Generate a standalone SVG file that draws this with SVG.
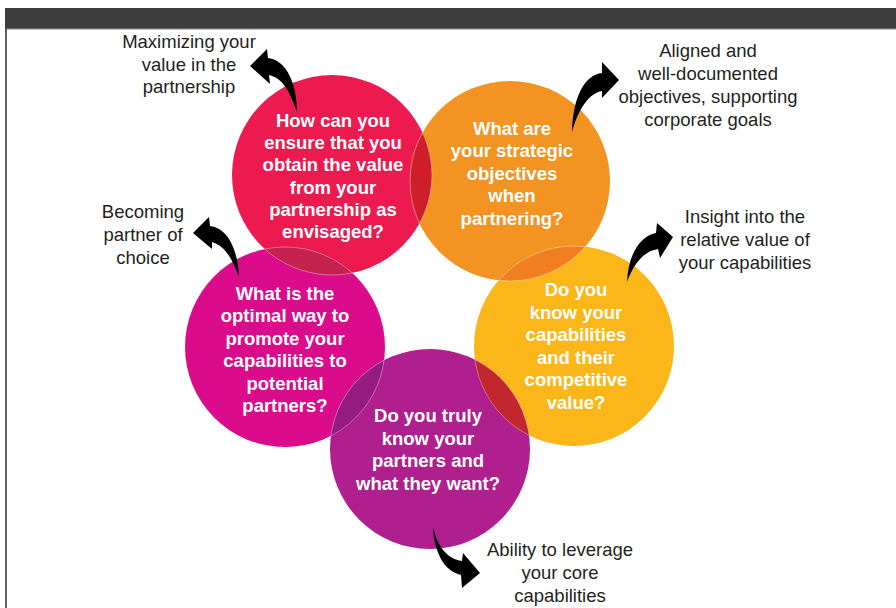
<svg xmlns="http://www.w3.org/2000/svg" xmlns:xlink="http://www.w3.org/1999/xlink" width="896" height="608" viewBox="0 0 896 608">
  <style>
    .q { font-family: "Liberation Sans", Arial, Helvetica, sans-serif; font-weight: bold; font-size: 18.5px; fill: #ffffff; text-anchor: middle; }
    .lbl { font-family: "Liberation Sans", Arial, Helvetica, sans-serif; font-size: 18.5px; fill: #231f20; text-anchor: middle; }
    .edge { fill: none; stroke: #ffffff; stroke-opacity: 0.45; stroke-width: 0.8; }
    .arrow { fill: #000000; }
  </style>
  <defs>
    <circle id="c-value" cx="332" cy="175" r="100"/>
    <circle id="c-strategy" cx="510" cy="181" r="100"/>
    <circle id="c-capability" cx="574" cy="346" r="100"/>
    <circle id="c-promote" cx="285" cy="347" r="100"/>
    <circle id="c-partners" cx="430" cy="449" r="100"/>
    <clipPath id="in-value"><use xlink:href="#c-value"/></clipPath>
    <clipPath id="in-strategy"><use xlink:href="#c-strategy"/></clipPath>
    <clipPath id="in-capability"><use xlink:href="#c-capability"/></clipPath>
    <clipPath id="in-promote"><use xlink:href="#c-promote"/></clipPath>
    <clipPath id="in-partners"><use xlink:href="#c-partners"/></clipPath>
  </defs>

  <!-- page frame -->
  <rect x="0" y="0" width="896" height="608" fill="#ffffff"/>
  <rect x="5" y="8" width="891" height="21" fill="#3d3d3d"/>
  <line x1="5.5" y1="29" x2="896" y2="29" stroke="#8a8a8a" stroke-width="1"/>
  <line x1="6" y1="29" x2="6" y2="608" stroke="#2b2b2b" stroke-width="1.5"/>

  <!-- circle bodies -->
  <g id="circles">
    <use xlink:href="#c-value" fill="#ec1a4f"/>
    <use xlink:href="#c-strategy" fill="#f39322"/>
    <use xlink:href="#c-capability" fill="#fbb619"/>
    <use xlink:href="#c-promote" fill="#db0c8b"/>
    <use xlink:href="#c-partners" fill="#af1f8e"/>
  </g>

  <!-- overlapping lenses -->
  <g id="overlaps">
    <g clip-path="url(#in-value)"><use xlink:href="#c-strategy" fill="#cf1f2a"/><use xlink:href="#c-strategy" class="edge"/></g>
    <g clip-path="url(#in-strategy)"><use xlink:href="#c-value" class="edge"/></g>

    <g clip-path="url(#in-value)"><use xlink:href="#c-promote" fill="#c4234f"/><use xlink:href="#c-promote" class="edge"/></g>
    <g clip-path="url(#in-promote)"><use xlink:href="#c-value" class="edge"/></g>

    <g clip-path="url(#in-strategy)"><use xlink:href="#c-capability" fill="#f27e22"/><use xlink:href="#c-capability" class="edge"/></g>
    <g clip-path="url(#in-capability)"><use xlink:href="#c-strategy" class="edge"/></g>

    <g clip-path="url(#in-capability)"><use xlink:href="#c-partners" fill="#c1272d"/><use xlink:href="#c-partners" class="edge"/></g>
    <g clip-path="url(#in-partners)"><use xlink:href="#c-capability" class="edge"/></g>

    <g clip-path="url(#in-promote)"><use xlink:href="#c-partners" fill="#951b81"/><use xlink:href="#c-partners" class="edge"/></g>
    <g clip-path="url(#in-partners)"><use xlink:href="#c-promote" class="edge"/></g>
  </g>

  <!-- question texts -->
  <g id="node-value">
    <text class="q" x="333" y="127">How can you</text>
    <text class="q" x="333" y="149">ensure that you</text>
    <text class="q" x="333" y="171">obtain the value</text>
    <text class="q" x="333" y="193.5">from your</text>
    <text class="q" x="333" y="215.5">partnership as</text>
    <text class="q" x="333" y="237.5">envisaged?</text>
  </g>
  <g id="node-strategy">
    <text class="q" x="512" y="134.5">What are</text>
    <text class="q" x="512" y="157">your strategic</text>
    <text class="q" x="512" y="179.5">objectives</text>
    <text class="q" x="512" y="202">when</text>
    <text class="q" x="512" y="224.5">partnering?</text>
  </g>
  <g id="node-capability">
    <text class="q" x="576" y="296">Do you</text>
    <text class="q" x="576" y="318.5">know your</text>
    <text class="q" x="576" y="341">capabilities</text>
    <text class="q" x="576" y="363.5">and their</text>
    <text class="q" x="576" y="386">competitive</text>
    <text class="q" x="576" y="408.5">value?</text>
  </g>
  <g id="node-promote">
    <text class="q" x="285" y="299.5">What is the</text>
    <text class="q" x="285" y="322">optimal way to</text>
    <text class="q" x="285" y="344.5">promote your</text>
    <text class="q" x="285" y="367">capabilities to</text>
    <text class="q" x="285" y="389.5">potential</text>
    <text class="q" x="285" y="412">partners?</text>
  </g>
  <g id="node-partners">
    <text class="q" x="428" y="422">Do you truly</text>
    <text class="q" x="428" y="444.5">know your</text>
    <text class="q" x="428" y="467">partners and</text>
    <text class="q" x="428" y="489.5">what they want?</text>
  </g>

  <!-- outcome labels -->
  <g id="label-value">
    <text class="lbl" x="189" y="48">Maximizing your</text>
    <text class="lbl" x="189" y="70.5">value in the</text>
    <text class="lbl" x="189" y="93">partnership</text>
  </g>
  <g id="label-strategy">
    <text class="lbl" x="708" y="57">Aligned and</text>
    <text class="lbl" x="708" y="80">well-documented</text>
    <text class="lbl" x="708" y="103">objectives, supporting</text>
    <text class="lbl" x="708" y="125.5">corporate goals</text>
  </g>
  <g id="label-promote">
    <text class="lbl" x="143" y="218">Becoming</text>
    <text class="lbl" x="143" y="241">partner of</text>
    <text class="lbl" x="143" y="263.5">choice</text>
  </g>
  <g id="label-capability">
    <text class="lbl" x="745" y="223">Insight into the</text>
    <text class="lbl" x="745" y="246">relative value of</text>
    <text class="lbl" x="745" y="269">your capabilities</text>
  </g>
  <g id="label-partners">
    <text class="lbl" x="560" y="556">Ability to leverage</text>
    <text class="lbl" x="560" y="579">your core</text>
    <text class="lbl" x="560" y="601.5">capabilities</text>
  </g>

  <!-- curved arrows from each circle to its outcome -->
  <g id="connectors">
    <path class="arrow" d="M250,66 L267,49 L268,58 C287,60 297,85 297,112 C290,92 283,78 269,75 L270,84 Z"/>
    <path class="arrow" d="M619,80 L602,62 L602,73 C585,75 573,96 572,132 C579,107 590,93 602,91 L602,98 Z"/>
    <path class="arrow" d="M673,237 L657,223 L656,233 C640,236 628,255 627,282 C634,263 644,251 658,249 L660,258 Z"/>
    <path class="arrow" d="M193,233 L209,217 L210,226 C228,228 238,250 239,277 C232,258 225,246 212,242 L212,249 Z"/>
    <path class="arrow" d="M480,573 L463,553 L462,561 C448,559 438,548 433,527 C434,552 444,571 461,575 L462,588 Z"/>
  </g>
</svg>
